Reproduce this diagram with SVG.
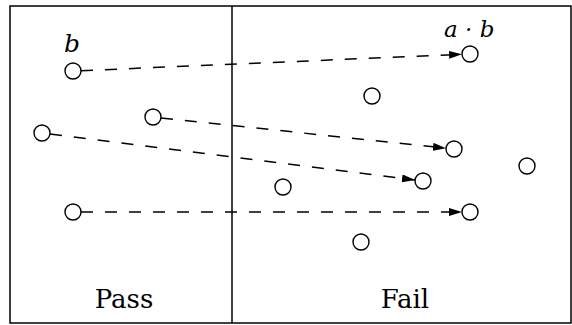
<svg xmlns="http://www.w3.org/2000/svg" width="572" height="325" viewBox="0 0 572 325">
<defs>
<marker id="ah" markerUnits="userSpaceOnUse" markerWidth="14" markerHeight="9" refX="13" refY="4" orient="auto">
<path d="M0,0 L13,4 L0,8 z" fill="#000"/>
</marker>
<style>
.frame{fill:none;stroke:#000;stroke-width:1.5}
.pt{fill:#fff;stroke:#000;stroke-width:1.4}
.edge{fill:none;stroke:#000;stroke-width:1.5;stroke-dasharray:12 12;marker-end:url(#ah)}
.lbl{font-family:"DejaVu Serif","Liberation Serif",serif;font-size:26px;fill:#000}
.math{font-family:"DejaVu Serif","Liberation Serif",serif;font-style:italic;fill:#000}
</style>
</defs>
<rect width="572" height="325" fill="#fff"/>
<g id="frame">
<rect class="frame" x="10" y="6" width="561" height="317"/>
<line class="frame" x1="232" y1="6" x2="232" y2="323"/>
</g>
<g id="connectors">
<line class="edge" x1="81" y1="70.7" x2="462" y2="54.3"/>
<line class="edge" x1="161" y1="117.9" x2="446" y2="148.2"/>
<line class="edge" x1="50" y1="134" x2="415" y2="180"/>
<line class="edge" x1="81" y1="212" x2="462" y2="212"/>
</g>
<g id="n1"><circle class="pt" cx="73" cy="71" r="8"/></g>
<g id="n2"><circle class="pt" cx="153" cy="117" r="8"/></g>
<g id="n3"><circle class="pt" cx="42" cy="133" r="8"/></g>
<g id="n4"><circle class="pt" cx="73" cy="212" r="8"/></g>
<g id="n5"><circle class="pt" cx="470" cy="54" r="8"/></g>
<g id="n6"><circle class="pt" cx="372" cy="96" r="8"/></g>
<g id="n7"><circle class="pt" cx="454" cy="149" r="8"/></g>
<g id="n8"><circle class="pt" cx="527" cy="166" r="8"/></g>
<g id="n9"><circle class="pt" cx="423" cy="181" r="8"/></g>
<g id="n10"><circle class="pt" cx="470" cy="212" r="8"/></g>
<g id="n11"><circle class="pt" cx="283" cy="187" r="8"/></g>
<g id="n12"><circle class="pt" cx="361" cy="242" r="8"/></g>
<g id="labels">
<text class="math" x="64" y="51.5" font-size="25">b</text>
<text class="math" x="444" y="36.5" font-size="23">a · b</text>
<text class="lbl" x="124" y="308" text-anchor="middle">Pass</text>
<text class="lbl" x="405" y="308" text-anchor="middle">Fail</text>
</g>
</svg>
